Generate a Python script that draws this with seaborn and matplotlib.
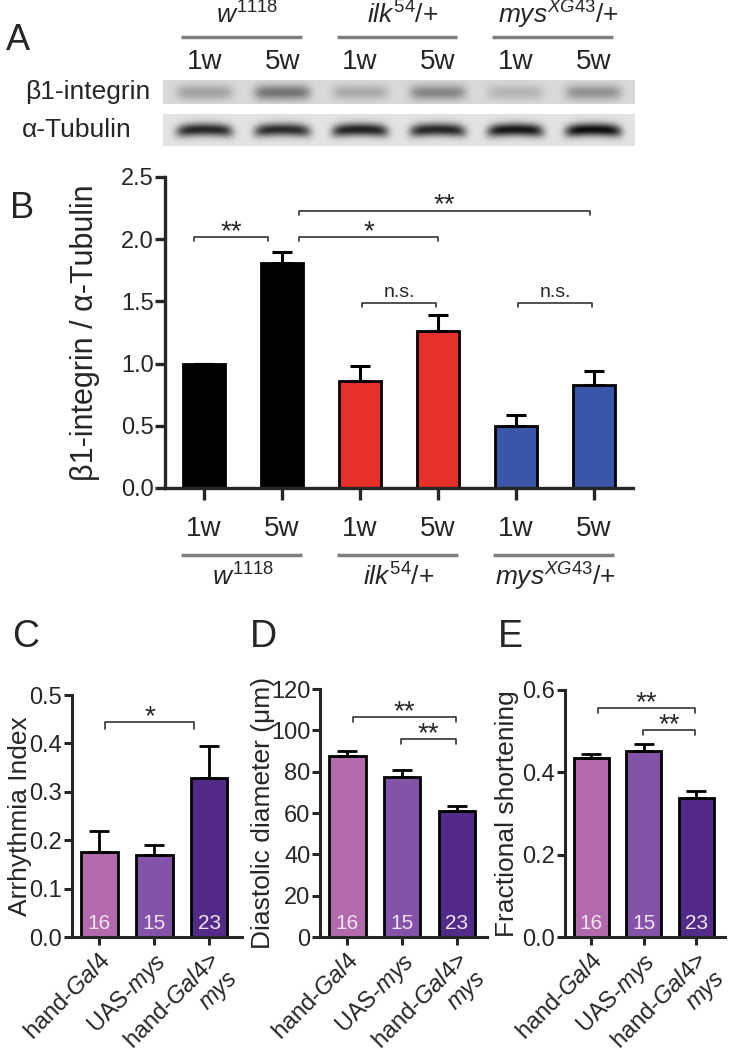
import numpy as np
import matplotlib
matplotlib.use("Agg")
from matplotlib import pyplot as plt
from matplotlib import transforms
import seaborn as sns

sns.set_style("ticks")
plt.rcParams['font.family'] = ['Liberation Sans', 'DejaVu Sans']
plt.rcParams['mathtext.fontset'] = 'custom'
plt.rcParams['mathtext.rm'] = 'Liberation Sans'
plt.rcParams['mathtext.it'] = 'Liberation Sans:italic'

# ---- panel A / B data
genotypes = [r"$\mathit{w}^{\mathit{1118}}$", r"$\mathit{ilk}^{\mathit{54}}$/+", r"$\mathit{mys}^{\mathit{XG43}}$/+"]
lanes = ["w1118 1w", "w1118 5w", "ilk 1w", "ilk 5w", "mys 1w", "mys 5w"]
lane_labels = ["1w", "5w", "1w", "5w", "1w", "5w"]
ratio = [1.00, 1.81, 0.86, 1.26, 0.50, 0.83]
ratio_sem = [0.0, 0.09, 0.12, 0.13, 0.09, 0.11]
lane_colors = ["#000000", "#000000", "#e8302a", "#e8302a", "#3a56a8", "#3a56a8"]
beta1_band = [0.22, 0.40, 0.18, 0.33, 0.14, 0.28]
tubulin_band = [0.74, 0.72, 0.76, 0.74, 0.80, 0.84]
# (x1, x2, y, label)
sig_B = [(-0.13, 0.82, 2.02, "**"), (1.22, 3.0, 2.02, "*"), (1.22, 4.95, 2.23, "**"),
         (2.03, 2.97, 1.49, "n.s."), (4.03, 4.97, 1.49, "n.s.")]

# ---- panels C-E data
crosses = ["hand-Gal4", "UAS-mys", "hand-Gal4>mys"]
cross_ticks = [r"hand-$\mathit{Gal4}$", r"UAS-$\mathit{mys}$", "hand-$\mathit{Gal4}$>\n$\mathit{mys}$"]
n_hearts = [16, 15, 23]
heart_colors = ["#b36aad", "#8453a9", "#522a88"]
arrhythmia = [0.175, 0.169, 0.328]
arrhythmia_sem = [0.043, 0.022, 0.067]
diastolic = [87.7, 77.5, 61.0]
diastolic_sem = [2.4, 3.2, 2.3]
shortening = [0.434, 0.452, 0.338]
shortening_sem = [0.010, 0.017, 0.016]
sig_C = [(0.11, 1.73, 0.445, "*")]
sig_D = [(0.11, 1.98, 106.6, "**"), (0.98, 1.98, 95.8, "**")]
sig_E = [(0.12, 1.98, 0.556, "**"), (0.98, 1.98, 0.503, "**")]

W, H = 735, 1049
fig = plt.figure(figsize=(W / 100, H / 100), dpi=100)


def box(l, t, r, b):
    return [l / W, 1 - b / H, (r - l) / W, (b - t) / H]


def bracket(ax, x1, x2, y, drop, label):
    ax.plot([x1, x1, x2, x2], [y - drop, y, y, y - drop], color="#333333", lw=1.2, clip_on=False)
    if label == "n.s.":
        ax.annotate(label, ((x1 + x2) / 2, y), xytext=(0, 4), textcoords="offset points",
                    ha="center", va="baseline", fontsize=14)
    else:
        ax.annotate(label, ((x1 + x2) / 2, y), xytext=(0, -1.5), textcoords="offset points",
                    ha="center", va="baseline", fontsize=20)


# ---------------- A: blot
axA = fig.add_axes(box(163, 80, 635, 146))
xs = np.linspace(-0.53, 5.53, 480)
top = np.full((24, 480), 0.85)
gap = np.ones((10, 480))
bot = np.full((32, 480), 0.89)
yb = np.arange(24)[:, None]
yt = np.arange(32)[:, None]
for i in range(6):
    px = np.exp(-((xs - i) / 0.36) ** 6)[None, :]
    top -= beta1_band[i] * px * np.exp(-((yb - 12) / 7.5) ** 2)
    yc = 15 + 2.5 * ((xs - i) / 0.4) ** 2
    bot -= tubulin_band[i] * px * np.exp(-((yt - yc[None, :]) / 6.5) ** 2)
img = np.vstack([top, gap, bot])
axA.imshow(img, cmap="gray", vmin=0, vmax=1, aspect="auto", extent=(-0.53, 5.53, 66, 0),
           interpolation="bilinear")
axA.set_xlim(-0.53, 5.53)
axA.axis("off")
trA = transforms.blended_transform_factory(axA.transData, fig.transFigure)
for g in range(3):
    axA.plot([2 * g - 0.3, 2 * g + 1.25], [1 - 37 / H] * 2, color="#808080", lw=2.5,
             transform=trA, clip_on=False, solid_capstyle="butt")
    axA.text(2 * g + 0.55, 1 - 15 / H, genotypes[g], ha="center", va="center", fontsize=19, transform=trA)
for i in range(6):
    axA.text(i, 1 - 62 / H, lane_labels[i], ha="center", va="center", fontsize=20, transform=trA)
fig.text(25 / W, 1 - 92 / H, "β1-integrin", ha="left", va="center", fontsize=19)
fig.text(22 / W, 1 - 130 / H, "α-Tubulin", ha="left", va="center", fontsize=19)
fig.text(6 / W, 1 - 41 / H, "A", fontsize=26, va="center")

# ---------------- B: quantification
axB = fig.add_axes(box(165, 177, 633, 488))
sns.barplot(x=lanes, y=ratio, hue=lanes, palette=lane_colors, legend=False, width=0.54,
            edgecolor="black", linewidth=2, saturation=1, ax=axB)
axB.errorbar(range(6), ratio, yerr=[np.zeros(6), ratio_sem], fmt="none", ecolor="black",
             elinewidth=2.2, capsize=7.5, capthick=2.2, zorder=1)
axB.set_xlim(-0.5, 5.5)
axB.set_ylim(0, 2.5)
axB.set_yticks([0, 0.5, 1.0, 1.5, 2.0, 2.5])
axB.set_yticklabels(["0.0", "0.5", "1.0", "1.5", "2.0", "2.5"])
axB.set_xticks(range(6))
axB.set_xticklabels(lane_labels)
axB.tick_params(axis="y", length=7, width=2.4, pad=1, labelsize=17)
axB.tick_params(axis="x", length=8.5, width=2.4, pad=12, labelsize=20)
sns.despine(ax=axB)
for s in ["left", "bottom"]:
    axB.spines[s].set_linewidth(2.4)
axB.set_ylabel("β1-integrin / α-Tubulin", fontsize=22)
axB.yaxis.set_label_coords(-0.139, 0.5)
for x1, x2, y, lab in sig_B:
    bracket(axB, x1, x2, y, 0.035, lab)
trB = transforms.blended_transform_factory(axB.transData, fig.transFigure)
for g in range(3):
    axB.plot([2 * g - 0.3, 2 * g + 1.25], [1 - 555 / H] * 2, color="#808080", lw=2.5,
             transform=trB, clip_on=False, solid_capstyle="butt")
    axB.text(2 * g + 0.5, 1 - 577 / H, genotypes[g], ha="center", va="center", fontsize=19, transform=trB)
fig.text(10 / W, 1 - 208 / H, "B", fontsize=26, va="center")


# ---------------- C-E: heart function
def heart_panel(rect, vals, sems, ymax, step, fmt, ylabel, sigs, drop, letter, lx, lab_x):
    ax = fig.add_axes(box(*rect))
    sns.barplot(x=crosses, y=vals, hue=crosses, palette=heart_colors, legend=False, width=0.67,
                edgecolor="black", linewidth=2, saturation=1, ax=ax)
    ax.errorbar(range(3), vals, yerr=[np.zeros(3), sems], fmt="none", ecolor="black",
                elinewidth=2, capsize=7.5, capthick=2, zorder=1)
    ax.set_ylim(0, ymax)
    ticks = np.arange(0, ymax + step / 2, step)
    ax.set_yticks(ticks)
    ax.set_yticklabels([fmt.format(t) for t in ticks])
    ax.set_xticks(range(3))
    ax.set_xticklabels(cross_ticks, rotation=45, ha="right", rotation_mode="anchor", multialignment="right")
    ax.tick_params(axis="y", length=6, width=2.2, pad=1, labelsize=17)
    ax.tick_params(axis="x", length=6, width=2.2, pad=3, labelsize=17)
    sns.despine(ax=ax)
    for s in ["left", "bottom"]:
        ax.spines[s].set_linewidth(2.2)
    ax.set_ylabel(ylabel, fontsize=19)
    ax.yaxis.set_label_coords(lab_x, 0.5)
    trn = transforms.blended_transform_factory(ax.transData, ax.transAxes)
    for i in range(3):
        ax.text(i, 0.055, str(n_hearts[i]), color="#f4e4f4", ha="center", va="center",
                fontsize=15, transform=trn)
    for x1, x2, y, lab in sigs:
        bracket(ax, x1, x2, y, drop, lab)
    fig.text(lx / W, 1 - 637 / H, letter, fontsize=27, va="center")
    return ax


axC = heart_panel((72, 695, 242, 937), arrhythmia, arrhythmia_sem, 0.5, 0.1, "{:.1f}",
                  "Arrhythmia Index", sig_C, 0.015, "C", 12, -0.235)
axC.set_xlim(-0.5, 2.6)
axD = heart_panel((320, 689, 487, 937), diastolic, diastolic_sem, 120, 20, "{:.0f}",
                  "Diastolic diameter (μm)", sig_D, 2.6, "D", 250, -0.27)
axD.set_xlim(-0.5, 2.55)
axE = heart_panel((565, 690, 725, 937), shortening, shortening_sem, 0.6, 0.2, "{:.1f}",
                  "Fractional shortening", sig_E, 0.012, "E", 498, -0.29)
axE.set_xlim(-0.5, 2.55)

fig.savefig("out.png", dpi=100)
